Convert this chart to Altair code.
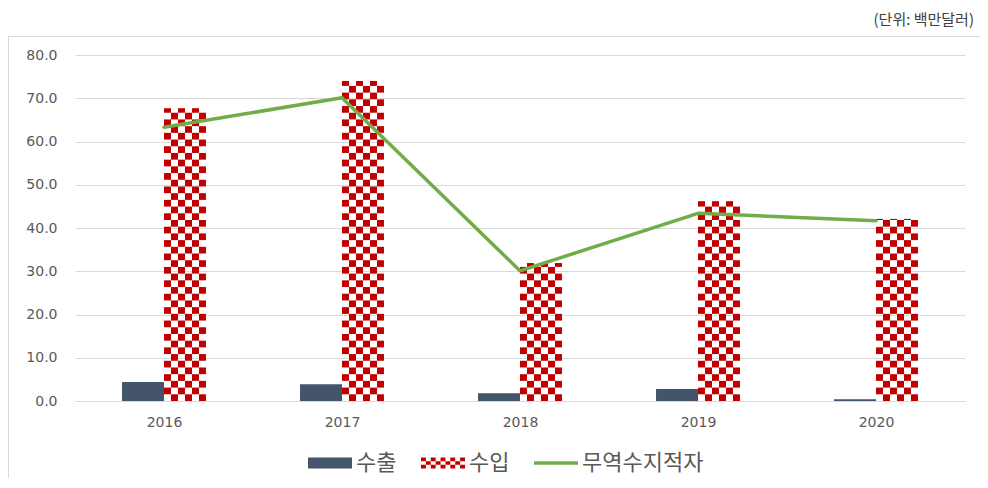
import altair as alt
import pandas as pd

# ---- data ----
years = [2016, 2017, 2018, 2019, 2020]
exports = [4.4, 3.9, 1.8, 2.8, 0.4]
imports = [67.7, 74.0, 31.9, 46.2, 42.1]
deficit = [63.3, 70.1, 30.1, 43.4, 41.7]
series_names = ["수출", "수입", "무역수지적자"]
series_colors = ["#44546A", "#C00000", "#70AD47"]
y_ticks = [0, 10, 20, 30, 40, 50, 60, 70, 80]
unit_label = "(단위: 백만달러)"

# ---- style constants ----
N_COLS = 6            # checker columns per import bar
CELL_W = 0.0393       # checker cell width (years)
CELL_H = 1.55         # checker cell height (value units)
BAR_W = N_COLS * CELL_W
GRAY = "#d9d9d9"
TXT = "#595959"

# ---- tables built from the arrays ----
exp_df = pd.DataFrame({"year": years, "value": exports})
exp_df["x0"] = exp_df["year"] - BAR_W
exp_df["x1"] = exp_df["year"]
exp_df["zero"] = 0.0

cells = []
for yr, v in zip(years, imports):
    r = 0
    while r * CELL_H < v - 1e-9:
        y0 = r * CELL_H
        y1 = min((r + 1) * CELL_H, v)
        for c in range(N_COLS):
            if (r + c) % 2 == 1:
                cells.append({"x0": yr + c * CELL_W, "x1": yr + (c + 1) * CELL_W,
                              "y0": y0, "y1": y1})
        r += 1
cells_df = pd.DataFrame(cells)

line_df = pd.DataFrame({"year": years, "value": deficit})
leg_df = pd.DataFrame({"series": series_names})

# legend swatch shapes (normalized [-1,1] paths)
rect_path = "M-1,-0.25H1V0.25H-1Z"
checker_parts = []
rows, cols = 3, 9
for rr in range(rows):
    for cc in range(cols):
        if (rr + cc) % 2 == 0:
            x0 = -1 + cc * 2 / cols
            y0 = -0.25 + rr * 0.5 / rows
            checker_parts.append(
                f"M{x0:.3f},{y0:.3f}h{2/cols:.3f}v{0.5/rows:.3f}h{-2/cols:.3f}Z")
checker_path = "".join(checker_parts)
line_path = "M-1,-0.075H1V0.075H-1Z"

x_scale = alt.Scale(domain=[2015.5, 2020.5], nice=False, zero=False)
y_scale = alt.Scale(domain=[0, 80], nice=False)

x_axis = alt.Axis(values=years, format="d", labelFontSize=14, labelFont="DejaVu Sans",
                  labelColor=TXT, ticks=False, domain=True, domainColor=GRAY,
                  grid=False, labelPadding=14, title=None)
y_axis = alt.Axis(values=y_ticks, format=".1f", labelFontSize=14, labelFont="DejaVu Sans",
                  labelColor=TXT, ticks=False, domain=False, gridColor=GRAY,
                  labelPadding=18, title=None)

export_bars = alt.Chart(exp_df).mark_rect(color=series_colors[0]).encode(
    x=alt.X("x0:Q", scale=x_scale, axis=x_axis),
    x2="x1:Q",
    y=alt.Y("value:Q", scale=y_scale, axis=y_axis),
    y2="zero:Q",
)

import_cells = alt.Chart(cells_df).mark_rect(color=series_colors[1]).encode(
    x=alt.X("x0:Q", scale=x_scale, axis=x_axis),
    x2="x1:Q",
    y=alt.Y("y0:Q", scale=y_scale, axis=y_axis),
    y2="y1:Q",
)

line = alt.Chart(line_df).mark_line(color=series_colors[2], strokeWidth=3.5,
                                    strokeJoin="round", strokeCap="round").encode(
    x=alt.X("year:Q", scale=x_scale, axis=x_axis),
    y=alt.Y("value:Q", scale=y_scale, axis=y_axis),
)

legend = alt.Legend(title=None, orient="none", legendX=233, legendY=386,
                    direction="horizontal", symbolSize=1936, symbolStrokeWidth=0,
                    symbolOpacity=1,
                    labelFontSize=22, labelFont="Noto Sans CJK KR", labelColor=TXT,
                    labelOffset=4, columnPadding=24, padding=0)

legend_layer = alt.Chart(leg_df).mark_point(filled=True, clip=True, size=10,
                                            opacity=1).encode(
    x=alt.value(-300),
    y=alt.value(-300),
    color=alt.Color("series:N", sort=series_names,
                    scale=alt.Scale(domain=series_names, range=series_colors),
                    legend=legend),
    shape=alt.Shape("series:N", sort=series_names,
                    scale=alt.Scale(domain=series_names,
                                    range=[rect_path, checker_path, line_path]),
                    legend=legend),
)

frame_top = alt.Chart(alt.Data(values=[{}])).mark_rule(color=GRAY, strokeWidth=1).encode(
    x=alt.value(-67), x2=alt.value(905), y=alt.value(-18.5))
frame_left = alt.Chart(alt.Data(values=[{}])).mark_rule(color=GRAY, strokeWidth=1).encode(
    x=alt.value(-66.5), y=alt.value(-18.5), y2=alt.value(423))

chart = alt.layer(
    frame_top, frame_left, export_bars, import_cells, line, legend_layer
).properties(
    width=890,
    height=346,
    autosize=alt.AutoSizeParams(type="none"),
    padding={"left": 67, "top": 47, "right": 15, "bottom": 77},
    title=alt.TitleParams(unit_label, anchor="end", frame="group", dx=9,
                          fontSize=15, font="Noto Sans CJK KR", fontWeight="normal",
                          color="#404040", offset=8),
).configure_view(stroke="transparent")

chart.save("out.html", embed_options={"renderer": "svg", "actions": False})
